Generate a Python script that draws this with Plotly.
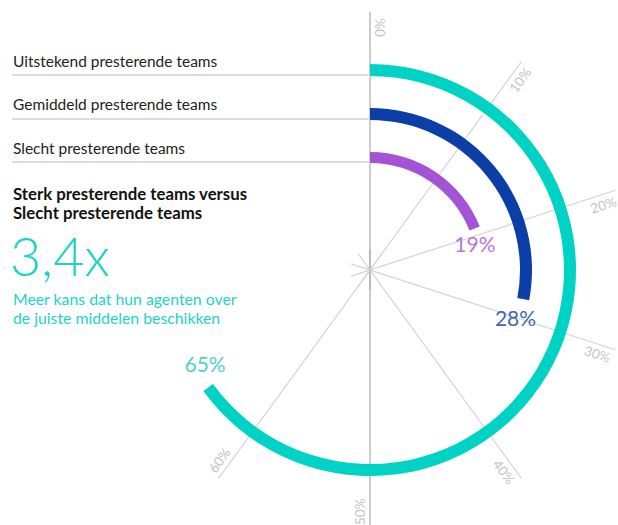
import math
import plotly.graph_objects as go

# ---- data ----
series = ["Uitstekend presterende teams", "Gemiddeld presterende teams", "Slecht presterende teams"]
values = [65, 28, 19]  # percent of full circle
value_labels = ["65%", "28%", "19%"]
tick_values = [0, 10, 20, 30, 40, 50, 60]
tick_labels = ["0%", "10%", "20%", "30%", "40%", "50%", "60%"]
headline = ["Sterk presterende teams versus", "Slecht presterende teams"]
big_number = "3,4x"
sub_text = ["Meer kans dat hun agenten over", "de juiste middelen beschikken"]

# ---- style ----
W, H = 618, 525
CX, CY = 370, 270          # centre of the dial in px
RP = 230                   # polar radius in px (radial axis range 0..RP)
ring_inner = [194, 150, 107]
ring_width = [12, 12, 11]
colors = ["#00D3C5", "#0B3EA7", "#A553D5"]
label_colors = ["#4FD2C8", "#4467B3", "#B47ADB"]
label_dtheta = [5.7, 8.3, 9.0]
label_dr = [-9, -2, -5]
series_label_y = [61, 104, 147.5]
FONT = "Lato"


def px(x):
    return x / W


def py(y):
    return 1 - y / H


def deg(v):
    return v * 3.6


fig = go.Figure()

# arcs
for i, v in enumerate(values):
    fig.add_trace(go.Barpolar(
        r=[ring_width[i]], base=[ring_inner[i]],
        theta=[deg(v) / 2], width=[deg(v)],
        marker=dict(color=colors[i], line=dict(width=0)),
        name=series[i], showlegend=False, hoverinfo="skip",
    ))

# value labels
for i, v in enumerate(values):
    fig.add_trace(go.Scatterpolar(
        r=[ring_inner[i] + ring_width[i] / 2 + label_dr[i]],
        theta=[deg(v) + label_dtheta[i]],
        mode="text", text=[value_labels[i]],
        textfont=dict(family=FONT, size=21, color=label_colors[i]),
        textposition="middle center", cliponaxis=False,
        showlegend=False, hoverinfo="skip",
    ))

shapes = []
annotations = []

# radial grid lines and tick labels
for v, lab in zip(tick_values, tick_labels):
    t = math.radians(deg(v))
    s, c = math.sin(t), math.cos(t)
    r0, r1 = -20, 258
    col = "#ABABAB" if v in (0, 50) else "#D4D4D4"
    shapes.append(dict(type="line", xref="paper", yref="paper", layer="below",
                       x0=px(CX + r0 * s), y0=py(CY - r0 * c),
                       x1=px(CX + r1 * s), y1=py(CY - r1 * c),
                       line=dict(color=col, width=1.2)))
    rl, off = 242, 10
    lx = CX + rl * s + off * c
    ly = CY - rl * c + off * s
    a = deg(v) - 90
    while a >= 90:
        a -= 180
    while a < -90:
        a += 180
    annotations.append(dict(x=px(lx), y=py(ly), xref="paper", yref="paper",
                            text=lab, showarrow=False, textangle=a,
                            xanchor="center", yanchor="middle",
                            font=dict(family=FONT, size=13.5, color="#C4C4C4")))

# series labels on the left with separator lines
for i, name in enumerate(series):
    annotations.append(dict(x=px(11), y=py(series_label_y[i]), xref="paper", yref="paper",
                            text=name, showarrow=False, xanchor="left", yanchor="middle",
                            font=dict(family=FONT, size=15.5, color="#222222")))
    yl = CY - ring_inner[i] - 1
    shapes.append(dict(type="line", xref="paper", yref="paper", layer="below",
                       x0=px(12), x1=px(CX), y0=py(yl), y1=py(yl),
                       line=dict(color="#DCDCDC", width=2.2)))

for j, (txt, yy) in enumerate(zip(headline, [193.5, 212.5])):
    annotations.append(dict(x=px(11), y=py(yy), xref="paper", yref="paper",
                            text="<b>" + txt + "</b>", showarrow=False,
                            xanchor="left", yanchor="middle",
                            font=dict(family=FONT, size=16.8, color="#111111")))

annotations.append(dict(x=px(8), y=py(255), xref="paper", yref="paper",
                        text=big_number, showarrow=False, xanchor="left", yanchor="middle",
                        font=dict(family=FONT, size=54, color="#1DD3C6", weight=300)))

for txt, yy in zip(sub_text, [298.5, 317]):
    annotations.append(dict(x=px(11), y=py(yy), xref="paper", yref="paper",
                            text=txt, showarrow=False, xanchor="left", yanchor="middle",
                            font=dict(family=FONT, size=15.8, color="#1DD3C6")))

fig.update_layout(
    width=W, height=H,
    margin=dict(l=0, r=0, t=0, b=0),
    paper_bgcolor="white", plot_bgcolor="white",
    showlegend=False,
    polar=dict(
        domain=dict(x=[px(CX - RP), px(CX + RP)], y=[py(CY + RP), py(CY - RP)]),
        bgcolor="rgba(0,0,0,0)",
        radialaxis=dict(range=[0, RP], visible=False),
        angularaxis=dict(rotation=90, direction="clockwise", visible=False),
        bargap=0,
    ),
    shapes=shapes,
    annotations=annotations,
)

fig.write_html("out.html")
